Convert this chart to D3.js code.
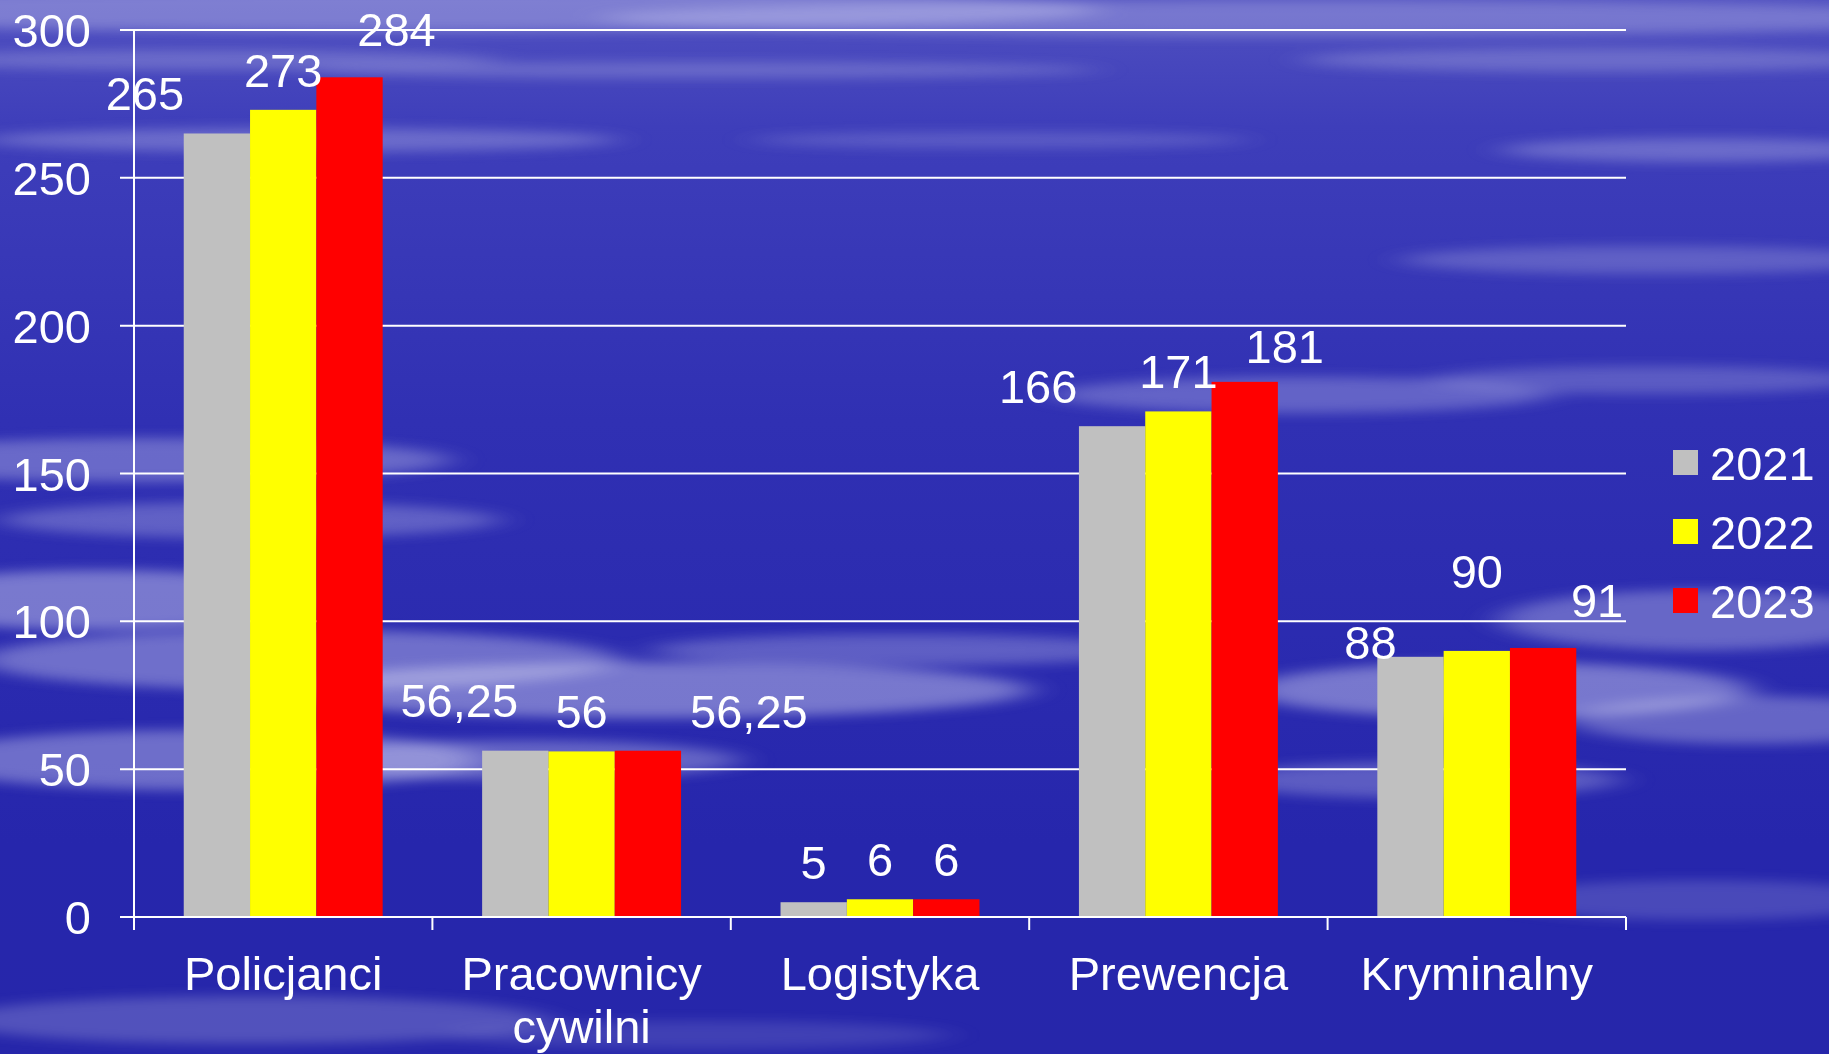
<!DOCTYPE html>
<html>
<head>
<meta charset="utf-8">
<script src="https://cdn.jsdelivr.net/npm/d3@7"></script>
<style>
  html, body { margin: 0; padding: 0; background: #2a2ab0; }
  svg { display: block; }
  text { font-family: "Liberation Sans", Arial, sans-serif; fill: #ffffff; }
</style>
</head>
<body>
<svg id="chart" width="1829" height="1054"></svg>
<script>
// ---- data ----
const categories = ["Policjanci", "Pracownicy cywilni", "Logistyka", "Prewencja", "Kryminalny"];
const seriesNames = ["2021", "2022", "2023"];
const values2021 = [265, 56.25, 5, 166, 88];
const values2022 = [273, 56, 6, 171, 90];
const values2023 = [284, 56.25, 6, 181, 91];
const yTicks = [0, 50, 100, 150, 200, 250, 300];
const seriesColors = ["#c0c0c0", "#ffff00", "#ff0000"];
// manual data-label nudges (px) as placed in the original chart: [dx, dy]
const labelNudge2021 = [[-72, 0], [-56, -11], [0, 0], [-74, 0], [-40, 25]];
const labelNudge2022 = [[0, 0], [0, 0], [0, 0], [0, 0], [0, -40]];
const labelNudge2023 = [[47, -8], [101, 0], [0, 0], [40, 4], [54, -8]];

const seriesValues = [values2021, values2022, values2023];
const seriesNudges = [labelNudge2021, labelNudge2022, labelNudge2023];

const W = 1829, H = 1054;
const svg = d3.select("#chart");
const defs = svg.append("defs");

// ---- background (sky with wispy clouds) ----
const bg = defs.append("linearGradient").attr("id", "bgGrad").attr("x1", 0).attr("y1", 0).attr("x2", 0).attr("y2", 1);
bg.append("stop").attr("offset", "0%").attr("stop-color", "#5050c0");
bg.append("stop").attr("offset", "12%").attr("stop-color", "#3e3eba");
bg.append("stop").attr("offset", "40%").attr("stop-color", "#3030b3");
bg.append("stop").attr("offset", "80%").attr("stop-color", "#2626ac");
bg.append("stop").attr("offset", "100%").attr("stop-color", "#2626aa");
svg.append("rect").attr("width", W).attr("height", H).attr("fill", "url(#bgGrad)");

const blur = defs.append("filter").attr("id", "cloudBlur").attr("x", "-50%").attr("y", "-50%").attr("width", "200%").attr("height", "200%");
blur.append("feGaussianBlur").attr("stdDeviation", "18 6");

const clouds = [
  [400, 10, 700, 22, 0.35], [1300, 18, 700, 18, 0.3], [200, 60, 300, 10, 0.25],
  [700, 70, 400, 8, 0.25], [1600, 60, 300, 12, 0.25], [300, 140, 320, 12, 0.3],
  [1000, 140, 250, 8, 0.2], [1700, 150, 200, 12, 0.3], [1650, 260, 250, 14, 0.25],
  [1300, 395, 250, 18, 0.3], [1650, 380, 220, 14, 0.25], [150, 460, 300, 22, 0.35],
  [250, 520, 250, 18, 0.3], [100, 600, 220, 30, 0.45], [300, 660, 320, 30, 0.4],
  [650, 690, 380, 28, 0.45], [900, 650, 250, 16, 0.3], [200, 760, 280, 30, 0.4],
  [520, 760, 220, 20, 0.35], [1700, 620, 200, 30, 0.35], [1500, 690, 250, 28, 0.45],
  [1750, 720, 180, 24, 0.35], [1420, 780, 200, 18, 0.3], [250, 1020, 300, 24, 0.25],
  [700, 1035, 250, 14, 0.15], [1700, 900, 200, 20, 0.2]
];
svg.append("g").attr("filter", "url(#cloudBlur)")
  .selectAll("ellipse").data(clouds).join("ellipse")
  .attr("cx", d => d[0]).attr("cy", d => d[1]).attr("rx", d => d[2]).attr("ry", d => d[3])
  .attr("fill", "#d8d8f4").attr("opacity", d => d[4]);

// ---- scales ----
const plotLeft = 134, plotRight = 1626, plotTop = 30, plotBottom = 917;
const x0 = d3.scaleBand().domain(categories).range([plotLeft, plotRight]).paddingInner(0).paddingOuter(0);
const x1 = d3.scaleBand().domain(seriesNames).range([0, x0.bandwidth()]).paddingInner(0).paddingOuter(0.75);
const y = d3.scaleLinear().domain([0, 300]).range([plotBottom, plotTop]);

const fontSize = 47;
const fmt = d3.formatLocale({ decimal: ",", thousands: " ", grouping: [3], currency: ["", ""] }).format("~f");

// ---- gridlines & y axis ----
svg.append("g").selectAll("line").data(yTicks).join("line")
  .attr("x1", plotLeft - 14).attr("x2", plotRight)
  .attr("y1", d => y(d)).attr("y2", d => y(d))
  .attr("stroke", "#ffffff").attr("stroke-width", 2);

svg.append("g").selectAll("text").data(yTicks).join("text")
  .attr("x", 91).attr("y", d => y(d) + 17)
  .attr("text-anchor", "end")
  .attr("font-size", fontSize)
  .text(d => fmt(d));

// ---- bars ----
const groups = svg.append("g").selectAll("g").data(categories).join("g")
  .attr("transform", c => `translate(${x0(c)},0)`);

groups.selectAll("rect").data((c, ci) => seriesNames.map((s, si) => ({ s, si, v: seriesValues[si][ci] })))
  .join("rect")
  .attr("x", d => x1(d.s))
  .attr("width", x1.bandwidth())
  .attr("y", d => y(d.v))
  .attr("height", d => y(0) - y(d.v))
  .attr("fill", d => seriesColors[d.si]);

// ---- axes lines ----
svg.append("line").attr("x1", plotLeft).attr("x2", plotLeft).attr("y1", plotTop).attr("y2", plotBottom + 13)
  .attr("stroke", "#fff").attr("stroke-width", 2);
svg.append("line").attr("x1", plotLeft - 14).attr("x2", plotRight).attr("y1", plotBottom).attr("y2", plotBottom)
  .attr("stroke", "#fff").attr("stroke-width", 2);
const xTickPos = categories.map(c => x0(c)).concat([x0(categories[categories.length - 1]) + x0.bandwidth()]);
svg.append("g").selectAll("line").data(xTickPos.slice(1)).join("line")
  .attr("x1", d => d).attr("x2", d => d).attr("y1", plotBottom).attr("y2", plotBottom + 13)
  .attr("stroke", "#fff").attr("stroke-width", 2);

// ---- data labels ----
groups.selectAll("text.val").data((c, ci) => seriesNames.map((s, si) => ({ s, si, v: seriesValues[si][ci], n: seriesNudges[si][ci] })))
  .join("text")
  .attr("class", "val")
  .attr("x", d => x1(d.s) + x1.bandwidth() / 2 + d.n[0])
  .attr("y", d => y(d.v) - 23 + d.n[1])
  .attr("text-anchor", "middle")
  .attr("font-size", fontSize)
  .text(d => fmt(d.v));

// ---- category labels ----
svg.append("g").selectAll("text").data(categories).join("text")
  .attr("x", c => x0(c) + x0.bandwidth() / 2)
  .attr("y", 990)
  .attr("text-anchor", "middle")
  .attr("font-size", fontSize)
  .each(function (c) {
    const words = c.split(" ");
    const t = d3.select(this);
    words.forEach((w, i) => {
      t.append("tspan").attr("x", x0(c) + x0.bandwidth() / 2).attr("dy", i === 0 ? 0 : 53).text(w);
    });
  });

// ---- legend ----
const legend = svg.append("g").selectAll("g").data(seriesNames).join("g")
  .attr("transform", (s, i) => `translate(1673, ${450 + i * 69})`);
legend.append("rect").attr("width", 25).attr("height", 25).attr("fill", (s, i) => seriesColors[i]);
legend.append("text").attr("x", 37).attr("y", 30).attr("font-size", fontSize).text(s => s);
</script>
</body>
</html>
